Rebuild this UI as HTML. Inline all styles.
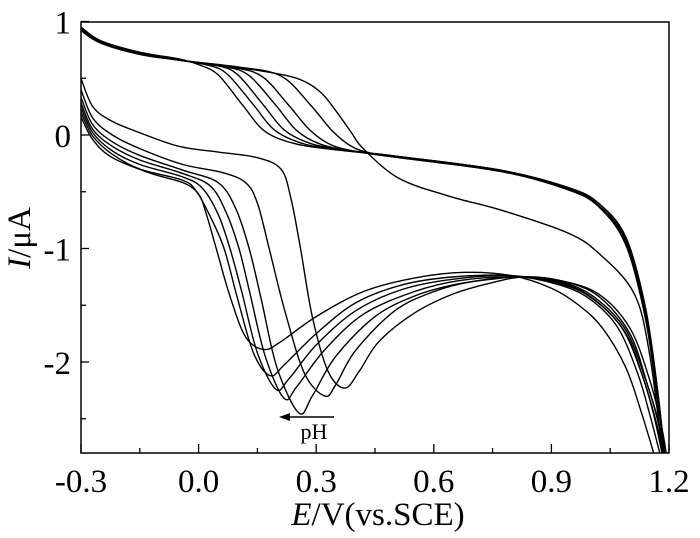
<!DOCTYPE html>
<html><head><meta charset="utf-8"><style>
html,body{margin:0;padding:0;background:#fff}
svg{display:block}
text{font-family:"Liberation Serif",serif;fill:#000}
</style></head><body>
<svg id="chart" width="700" height="538" viewBox="0 0 700 538" xmlns="http://www.w3.org/2000/svg">
<g id="curves"></g>
<rect x="81" y="22" width="588" height="431" fill="none" stroke="#000" stroke-width="1.5"/>
<g id="axes"></g>
<line x1="334" y1="417" x2="288" y2="417" stroke="#000" stroke-width="1.5"/>
<polygon points="279,417 290,413 290,421" fill="#000"/>
<text x="314" y="439" font-size="22" text-anchor="middle">pH</text>
<text x="378" y="525" font-size="33" text-anchor="middle"><tspan font-style="italic">E</tspan>/V(vs.SCE)</text>
<text transform="translate(30,238) rotate(-90)" font-size="33" text-anchor="middle"><tspan font-style="italic">I</tspan>/μA</text>
</svg>
<script>
const xTicks = [-0.3, 0.0, 0.3, 0.6, 0.9, 1.2];
const xTickLabels = ["-0.3", "0.0", "0.3", "0.6", "0.9", "1.2"];
const yTicks = [1, 0, -1, -2];
const yTickLabels = ["1", "0", "-1", "-2"];
const xMinorTicks = [-0.15, 0.15, 0.45, 0.75, 1.05];
const yMinorTicks = [0.5, -0.5, -1.5, -2.5];

const upper1 = [[-0.3,0.95],[-0.25,0.83],[-0.15,0.73],[-0.05,0.67],[0.0,0.62],[0.05,0.53],[0.113,0.26],[0.17,0.03],[0.25,-0.08],[0.35,-0.13],[0.51,-0.19],[0.77,-0.31],[0.94,-0.46],[1.02,-0.6],[1.09,-0.9],[1.14,-1.52],[1.17,-2.22],[1.19,-2.85]];
const upper2 = [[-0.3,0.94],[-0.25,0.82],[-0.15,0.72],[-0.05,0.66],[0.03,0.61],[0.075,0.53],[0.139,0.27],[0.195,0.04],[0.27,-0.08],[0.36,-0.13],[0.51,-0.19],[0.77,-0.31],[0.94,-0.47],[1.02,-0.62],[1.09,-0.93],[1.14,-1.55],[1.17,-2.25],[1.19,-2.85]];
const upper3 = [[-0.3,0.93],[-0.25,0.82],[-0.15,0.72],[-0.05,0.66],[0.05,0.61],[0.1,0.53],[0.164,0.27],[0.22,0.04],[0.29,-0.08],[0.37,-0.13],[0.51,-0.19],[0.77,-0.31],[0.94,-0.46],[1.02,-0.6],[1.09,-0.92],[1.14,-1.55],[1.17,-2.25],[1.19,-2.85]];
const upper4 = [[-0.3,0.95],[-0.25,0.83],[-0.15,0.72],[-0.05,0.66],[0.07,0.6],[0.13,0.52],[0.195,0.27],[0.25,0.04],[0.31,-0.08],[0.39,-0.14],[0.51,-0.19],[0.77,-0.32],[0.94,-0.47],[1.02,-0.62],[1.09,-0.95],[1.14,-1.6],[1.17,-2.3],[1.19,-2.85]];
const upper5 = [[-0.3,0.94],[-0.25,0.82],[-0.15,0.72],[-0.05,0.66],[0.08,0.6],[0.16,0.52],[0.228,0.27],[0.285,0.04],[0.34,-0.09],[0.41,-0.15],[0.51,-0.2],[0.77,-0.32],[0.94,-0.48],[1.02,-0.63],[1.09,-0.97],[1.14,-1.62],[1.17,-2.32],[1.19,-2.85]];
const upper6 = [[-0.3,0.93],[-0.25,0.82],[-0.15,0.72],[-0.05,0.66],[0.1,0.6],[0.21,0.52],[0.284,0.27],[0.34,0.04],[0.39,-0.1],[0.44,-0.16],[0.52,-0.2],[0.77,-0.32],[0.94,-0.47],[1.02,-0.62],[1.09,-0.94],[1.14,-1.58],[1.17,-2.28],[1.19,-2.85]];
const upper7 = [[-0.3,0.92],[-0.25,0.81],[-0.15,0.71],[-0.05,0.66],[0.05,0.61],[0.15,0.57],[0.25,0.5],[0.31,0.38],[0.353,0.2],[0.39,0.02],[0.42,-0.12],[0.51,-0.38],[0.64,-0.54],[0.77,-0.66],[0.94,-0.86],[1.02,-1.04],[1.11,-1.39],[1.15,-1.92],[1.185,-2.85]];

const lower1 = [[-0.3,0.16],[-0.27,-0.04],[-0.22,-0.2],[-0.12,-0.34],[-0.04,-0.42],[0.0,-0.52],[0.02,-0.7],[0.045,-1.0],[0.08,-1.42],[0.12,-1.78],[0.167,-1.89],[0.21,-1.82],[0.3,-1.6],[0.42,-1.38],[0.55,-1.26],[0.68,-1.21],[0.8,-1.24],[0.9,-1.35],[0.97,-1.5],[1.03,-1.7],[1.09,-2.05],[1.13,-2.45],[1.165,-2.85]];
const lower2 = [[-0.3,0.2],[-0.27,-0.01],[-0.22,-0.17],[-0.15,-0.3],[-0.04,-0.4],[-0.005,-0.5],[0.03,-0.72],[0.065,-1.0],[0.1,-1.45],[0.14,-1.92],[0.182,-2.12],[0.22,-2.02],[0.3,-1.75],[0.4,-1.48],[0.52,-1.32],[0.65,-1.25],[0.8,-1.24],[0.92,-1.32],[1.0,-1.45],[1.07,-1.7],[1.12,-2.1],[1.15,-2.45],[1.18,-2.85]];
const lower3 = [[-0.3,0.24],[-0.27,0.02],[-0.22,-0.14],[-0.15,-0.26],[-0.04,-0.37],[0.01,-0.47],[0.05,-0.7],[0.08,-1.0],[0.11,-1.38],[0.15,-1.92],[0.197,-2.24],[0.23,-2.15],[0.3,-1.85],[0.4,-1.55],[0.52,-1.36],[0.65,-1.27],[0.8,-1.24],[0.92,-1.31],[1.0,-1.43],[1.08,-1.7],[1.13,-2.1],[1.16,-2.45],[1.185,-2.85]];
const lower4 = [[-0.3,0.28],[-0.27,0.05],[-0.22,-0.1],[-0.15,-0.22],[-0.04,-0.34],[0.03,-0.45],[0.07,-0.68],[0.103,-1.0],[0.13,-1.38],[0.17,-1.95],[0.218,-2.32],[0.25,-2.22],[0.32,-1.9],[0.42,-1.58],[0.55,-1.38],[0.67,-1.28],[0.82,-1.25],[0.93,-1.31],[1.01,-1.45],[1.09,-1.75],[1.135,-2.15],[1.165,-2.5],[1.19,-2.85]];
const lower5 = [[-0.3,0.33],[-0.27,0.09],[-0.22,-0.06],[-0.15,-0.18],[-0.04,-0.31],[0.05,-0.42],[0.095,-0.65],[0.129,-1.0],[0.16,-1.45],[0.2,-2.05],[0.256,-2.45],[0.29,-2.3],[0.35,-1.95],[0.45,-1.6],[0.55,-1.42],[0.65,-1.32],[0.75,-1.27],[0.83,-1.25],[0.93,-1.3],[1.01,-1.43],[1.09,-1.72],[1.14,-2.15],[1.17,-2.5],[1.19,-2.85]];
const lower6 = [[-0.3,0.4],[-0.27,0.15],[-0.22,0.0],[-0.15,-0.12],[-0.04,-0.26],[0.06,-0.33],[0.12,-0.42],[0.15,-0.6],[0.18,-1.0],[0.22,-1.55],[0.27,-2.1],[0.322,-2.3],[0.35,-2.2],[0.4,-1.9],[0.5,-1.55],[0.6,-1.38],[0.7,-1.29],[0.83,-1.25],[0.93,-1.29],[1.02,-1.42],[1.1,-1.75],[1.145,-2.2],[1.175,-2.55],[1.19,-2.85]];
const lower7 = [[-0.3,0.5],[-0.27,0.25],[-0.22,0.12],[-0.15,0.02],[-0.05,-0.1],[0.05,-0.15],[0.15,-0.2],[0.21,-0.3],[0.235,-0.55],[0.26,-1.0],[0.29,-1.6],[0.33,-2.08],[0.373,-2.23],[0.41,-2.08],[0.46,-1.82],[0.55,-1.57],[0.65,-1.4],[0.75,-1.3],[0.83,-1.25],[0.92,-1.28],[1.02,-1.4],[1.1,-1.7],[1.15,-2.15],[1.18,-2.55],[1.195,-2.85]];

const series = [upper1,upper2,upper3,upper4,upper5,upper6,upper7,lower1,lower2,lower3,lower4,lower5,lower6,lower7];
const seriesNames = ["upper-branch-1","upper-branch-2","upper-branch-3","upper-branch-4","upper-branch-5","upper-branch-6","upper-branch-7","lower-branch-1","lower-branch-2","lower-branch-3","lower-branch-4","lower-branch-5","lower-branch-6","lower-branch-7"];

const X0=81, X1=669, Y0=22, Y1=453;
const xMin=-0.3, xMax=1.2;
function xs(e){ return X0 + (e - xMin) / (xMax - xMin) * (X1 - X0); }
function ys(i){ return 135 - i * 113.5; }

const NS="http://www.w3.org/2000/svg";
const svg=document.getElementById('chart');
const defs=document.createElementNS(NS,'defs');
defs.innerHTML='<clipPath id="clip"><rect x="81" y="22" width="588" height="431"/></clipPath>';
svg.insertBefore(defs, svg.firstChild);

function pathFrom(pts){
  const p=pts.map(d=>[xs(d[0]),ys(d[1])]);
  let s="M"+p[0][0].toFixed(2)+","+p[0][1].toFixed(2);
  for(let k=0;k<p.length-1;k++){
    const a=p[k-1]||p[k], b=p[k], c=p[k+1], d=p[k+2]||p[k+1];
    const c1=[b[0]+(c[0]-a[0])/6, b[1]+(c[1]-a[1])/6];
    const c2=[c[0]-(d[0]-b[0])/6, c[1]-(d[1]-b[1])/6];
    s+=" C"+c1[0].toFixed(2)+","+c1[1].toFixed(2)+" "+c2[0].toFixed(2)+","+c2[1].toFixed(2)+" "+c[0].toFixed(2)+","+c[1].toFixed(2);
  }
  return s;
}
const cg=document.getElementById('curves');
cg.setAttribute('clip-path','url(#clip)');
series.forEach((pts,idx)=>{
  const el=document.createElementNS(NS,'path');
  el.setAttribute('d',pathFrom(pts));
  el.setAttribute('fill','none');
  el.setAttribute('stroke','#000');
  el.setAttribute('stroke-width','1.4');
  
  
  cg.appendChild(el);
});

const ag=document.getElementById('axes');
xTicks.forEach((v,k)=>{
  const t=document.createElementNS(NS,'line');
  t.setAttribute('x1',xs(v));t.setAttribute('x2',xs(v));
  t.setAttribute('y1',Y1);t.setAttribute('y2',Y1-9);
  t.setAttribute('stroke','#000');t.setAttribute('stroke-width','1.3');
  
  
  ag.appendChild(t);
  const l=document.createElementNS(NS,'text');
  l.setAttribute('x',xs(v));l.setAttribute('y',492);
  l.setAttribute('font-size','33');l.setAttribute('text-anchor','middle');
  l.textContent=xTickLabels[k];
  
  
  ag.appendChild(l);
});
xMinorTicks.forEach(v=>{
  const t=document.createElementNS(NS,'line');
  t.setAttribute('x1',xs(v));t.setAttribute('x2',xs(v));
  t.setAttribute('y1',Y1);t.setAttribute('y2',Y1-5);
  t.setAttribute('stroke','#000');t.setAttribute('stroke-width','1.3');
  
  
  ag.appendChild(t);
});
yTicks.forEach((v,k)=>{
  const t=document.createElementNS(NS,'line');
  t.setAttribute('x1',X0);t.setAttribute('x2',X0+8);
  t.setAttribute('y1',ys(v));t.setAttribute('y2',ys(v));
  t.setAttribute('stroke','#000');t.setAttribute('stroke-width','1.3');
  
  
  ag.appendChild(t);
  const l=document.createElementNS(NS,'text');
  l.setAttribute('x',X0-10);l.setAttribute('y',ys(v)+12);
  l.setAttribute('font-size','33');l.setAttribute('text-anchor','end');
  l.textContent=yTickLabels[k];
  
  
  ag.appendChild(l);
});
yMinorTicks.forEach(v=>{
  const t=document.createElementNS(NS,'line');
  t.setAttribute('x1',X0);t.setAttribute('x2',X0+5);
  t.setAttribute('y1',ys(v));t.setAttribute('y2',ys(v));
  t.setAttribute('stroke','#000');t.setAttribute('stroke-width','1.3');
  
  
  ag.appendChild(t);
});
</script>
</body></html>
